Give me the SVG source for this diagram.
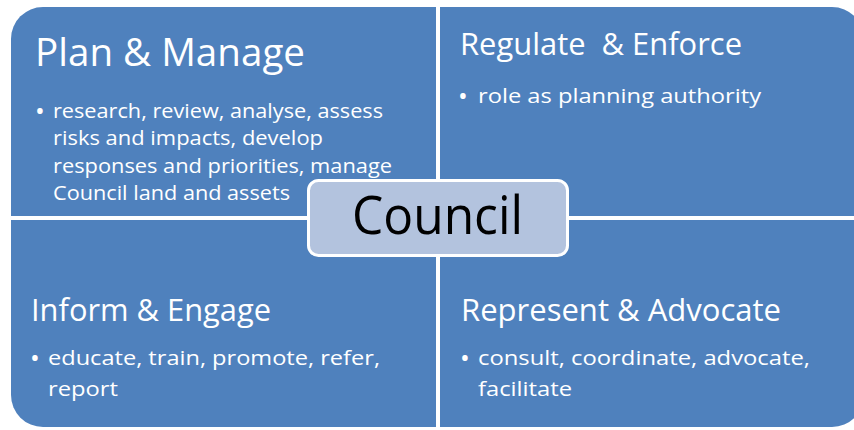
<svg xmlns="http://www.w3.org/2000/svg" width="854" height="430" viewBox="0 0 854 430">
<style>
.q{fill:#4F81BD}
.t{font-family:"Open Sans","Noto Sans",sans-serif;fill:#FFFFFF;white-space:pre}
.h1{font-size:38px}
.h2{font-size:31px}
.b{font-size:20px}
.d{font-size:26px}
.c{font-family:"Open Sans","Noto Sans",sans-serif;font-size:53px;fill:#000000}
</style>
<rect width="854" height="430" fill="#FFFFFF"/>
<g id="plan-manage">
<path class="q" d="M11,39 A32,32 0 0 1 43,7 H436 V216 H11 Z"/>
<text class="t h1" x="35" y="66" textLength="270" lengthAdjust="spacingAndGlyphs">Plan &amp; Manage</text>
<text class="t d" x="35" y="120">•</text>
<text class="t b" x="53" y="118" textLength="330" lengthAdjust="spacingAndGlyphs">research, review, analyse, assess</text>
<text class="t b" x="53" y="145" textLength="270" lengthAdjust="spacingAndGlyphs">risks and impacts, develop</text>
<text class="t b" x="53" y="173" textLength="339" lengthAdjust="spacingAndGlyphs">responses and priorities, manage</text>
<text class="t b" x="53" y="200" textLength="237" lengthAdjust="spacingAndGlyphs">Council land and assets</text>
</g>
<g id="regulate-enforce">
<path class="q" d="M440,7 H832 A32,32 0 0 1 864,39 V216 H440 Z"/>
<text class="t h2" x="460" y="55" textLength="282" lengthAdjust="spacingAndGlyphs">Regulate  &amp; Enforce</text>
<text class="t d" x="458" y="105">•</text>
<text class="t b" x="478" y="103" textLength="283" lengthAdjust="spacingAndGlyphs">role as planning authority</text>
</g>
<g id="inform-engage">
<path class="q" d="M11,220 H436 V427 H43 A32,32 0 0 1 11,395 Z"/>
<text class="t h2" x="31" y="321" textLength="240" lengthAdjust="spacingAndGlyphs">Inform &amp; Engage</text>
<text class="t d" x="30" y="367">•</text>
<text class="t b" x="48" y="365" textLength="332" lengthAdjust="spacingAndGlyphs">educate, train, promote, refer,</text>
<text class="t b" x="48" y="396" textLength="70" lengthAdjust="spacingAndGlyphs">report</text>
</g>
<g id="represent-advocate">
<path class="q" d="M440,220 H864 V395 A32,32 0 0 1 832,427 H440 Z"/>
<text class="t h2" x="461" y="321" textLength="320" lengthAdjust="spacingAndGlyphs">Represent &amp; Advocate</text>
<text class="t d" x="460" y="367">•</text>
<text class="t b" x="478" y="365" textLength="332" lengthAdjust="spacingAndGlyphs">consult, coordinate, advocate,</text>
<text class="t b" x="478" y="396" textLength="94" lengthAdjust="spacingAndGlyphs">facilitate</text>
</g>
<g id="council">
<rect x="308.5" y="180.5" width="259" height="75" rx="10" fill="#B3C3DE" stroke="#FFFFFF" stroke-width="3"/>
<text class="c" x="352" y="234" textLength="171" lengthAdjust="spacingAndGlyphs">Council</text>
</g>
<g id="connectors"/>
</svg>
